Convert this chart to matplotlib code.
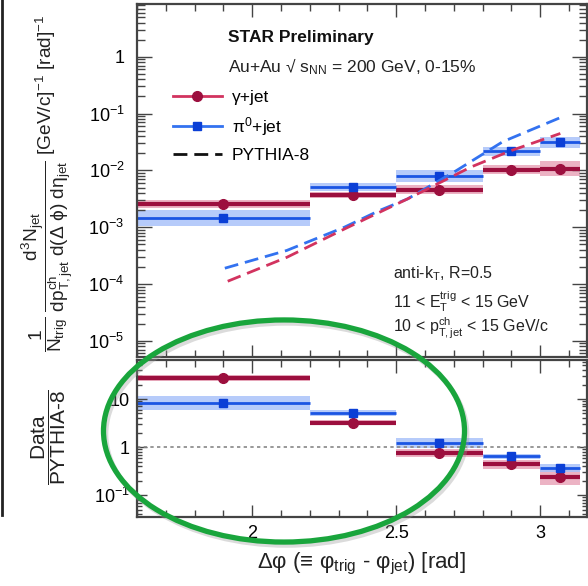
import numpy as np
import matplotlib
matplotlib.use("Agg")
import matplotlib.pyplot as plt
from matplotlib.lines import Line2D
from matplotlib.patches import Ellipse
from matplotlib.ticker import LogLocator, FuncFormatter, MultipleLocator, NullFormatter

plt.rcParams['font.family'] = ['Liberation Sans', 'DejaVu Sans']
plt.rcParams['mathtext.fontset'] = 'custom'
plt.rcParams['mathtext.rm'] = 'Liberation Sans'
plt.rcParams['mathtext.it'] = 'Liberation Sans'
plt.rcParams['mathtext.bf'] = 'Liberation Sans:bold'

# delta-phi bins
bin_lo = [1.6, 2.2, 2.5, 2.8, 3.0]
bin_hi = [2.2, 2.5, 2.8, 3.0, 3.14]
bin_center = [1.9, 2.35, 2.65, 2.9, 3.07]

# per-trigger yields (upper panel), systematic half-width in decades
gamma_yield = [2.6e-3, 3.7e-3, 4.6e-3, 1.03e-2, 1.07e-2]
pi0_yield = [1.43e-3, 5.1e-3, 7.9e-3, 2.17e-2, 3.1e-2]
gamma_sys = [0.07, 0.05, 0.08, 0.08, 0.13]
pi0_sys = [0.14, 0.07, 0.11, 0.08, 0.09]

# PYTHIA-8 curves
pythia_gamma_x = [1.915, 2.12, 2.32, 2.54, 2.76, 2.90, 3.07]
pythia_gamma_y = [1.12e-4, 2.95e-4, 9.3e-4, 3.16e-3, 1.15e-2, 2.24e-2, 4.47e-2]
pythia_pi0_x = [1.905, 2.12, 2.32, 2.44, 2.54, 2.70, 2.87, 3.07]
pythia_pi0_y = [1.9e-4, 3.9e-4, 1.0e-3, 1.95e-3, 3.16e-3, 9.3e-3, 3.2e-2, 8.5e-2]

# Data / PYTHIA-8 (lower panel)
gamma_ratio = [27.9, 3.2, 0.76, 0.44, 0.235]
pi0_ratio = [8.3, 5.1, 1.21, 0.64, 0.365]
gamma_ratio_sys = [0.06, 0.05, 0.08, 0.09, 0.15]
pi0_ratio_sys = [0.14, 0.055, 0.10, 0.06, 0.08]

red_dark = '#9c0f3e'
red_band = '#e9a6ba'
red_dash = '#d2335f'
blue_dark = '#0b3fd6'
blue_line = '#1a55e3'
blue_band = '#aac2fa'
blue_dash = '#3372f0'
frame = '#444444'


def draw_series(ax, values, sys, line_c, band_c, mark_c, marker, ms, lw):
    for lo, hi, c, v, s in zip(bin_lo, bin_hi, bin_center, values, sys):
        ax.fill_between([lo, hi], v / 10**s, v * 10**s, color=band_c, lw=0, alpha=0.85)
        ax.hlines(v, lo, hi, color=line_c, lw=lw)
        ax.plot(c, v, marker=marker, color=mark_c, ms=ms, ls='none')


def log_label(v, pos):
    e = int(round(np.log10(v)))
    if e == 0:
        return '1'
    if e == 1:
        return '10'
    return r'10$^{%d}$' % e


def style_axes(ax, ymaj, ymin):
    for sp in ax.spines.values():
        sp.set_color(frame)
        sp.set_linewidth(1.6)
    ax.xaxis.set_major_locator(MultipleLocator(0.5))
    ax.xaxis.set_minor_locator(MultipleLocator(0.1))
    ax.yaxis.set_major_locator(LogLocator(base=10, numticks=20))
    ax.yaxis.set_minor_locator(LogLocator(base=10, subs=np.arange(2, 10), numticks=20))
    ax.yaxis.set_major_formatter(FuncFormatter(log_label))
    ax.yaxis.set_minor_formatter(NullFormatter())
    ax.tick_params(which='both', direction='in', top=True, right=True, color=frame, width=1)
    ax.tick_params(axis='x', which='major', length=9)
    ax.tick_params(axis='x', which='minor', length=5)
    ax.tick_params(axis='y', which='major', length=ymaj)
    ax.tick_params(axis='y', which='minor', length=ymin)


fig = plt.figure(figsize=(5.88, 5.86), dpi=100)
ax = fig.add_axes([0.233, 0.3908, 0.765, 0.6024])
axr = fig.add_axes([0.233, 0.1177, 0.765, 0.268])

# ---- upper panel
ax.set_yscale('log')
draw_series(ax, gamma_yield, gamma_sys, red_dark, red_band, red_dark, 'o', 7, 3)
draw_series(ax, pi0_yield, pi0_sys, blue_line, blue_band, blue_dark, 's', 6, 2)
ax.plot(pythia_pi0_x, pythia_pi0_y, color=blue_dash, lw=2, ls=(0, (5, 2.5)))
ax.plot(pythia_gamma_x, pythia_gamma_y, color=red_dash, lw=2, ls=(0, (5, 2.5)))
ax.set_xlim(1.6, 3.162)
ax.set_ylim(5.2e-6, 8.5)
style_axes(ax, 11, 5.5)
ax.tick_params(axis='x', labelbottom=False)
ax.tick_params(axis='y', labelsize=13, pad=9)

ax.text(0.203, 0.906, 'STAR Preliminary', transform=ax.transAxes, fontsize=12.5,
        fontweight='bold', va='center', color='#111111')
ax.text(0.203, 0.823, r'Au+Au √ s$_{\mathrm{NN}}$ = 200 GeV, 0-15%', transform=ax.transAxes,
        fontsize=12.5, va='center', color='#222222')

handles = [
    Line2D([], [], color=red_dash, lw=2, marker='o', mfc=red_dark, mec=red_dark, ms=7),
    Line2D([], [], color=blue_dash, lw=2, marker='s', mfc=blue_dark, mec=blue_dark, ms=6),
    Line2D([], [], color='#111111', lw=2, ls=(0, (5, 2.5))),
]
labels = ['γ+jet', r'$\pi^{0}$+jet', 'PYTHIA-8']
leg = ax.legend(handles, labels, loc='upper left', bbox_to_anchor=(0.08, 0.757),
                frameon=False, fontsize=12.5, handlelength=2.8, handletextpad=0.6,
                labelspacing=0.58, borderpad=0, borderaxespad=0)

ax.text(0.57, 0.236, r'anti-k$_{\mathrm{T}}$, R=0.5', transform=ax.transAxes,
        fontsize=11.5, va='center', color='#222222')
ax.text(0.57, 0.158, r'11 < E$_{\mathrm{T}}^{\mathrm{trig}}$ < 15 GeV', transform=ax.transAxes,
        fontsize=11.5, va='center', color='#222222')
ax.text(0.57, 0.08, r'10 < p$_{\mathrm{T,jet}}^{\mathrm{ch}}$ < 15 GeV/c', transform=ax.transAxes,
        fontsize=11.5, va='center', color='#222222')

fig.text(0.082, 0.687,
         r'$\dfrac{1}{\mathrm{N}_{\mathrm{trig}}}\ \dfrac{\mathrm{d}^{3}\mathrm{N}_{\mathrm{jet}}}'
         r'{\mathrm{dp}^{\mathrm{ch}}_{\mathrm{T,jet}}\ \mathrm{d}(\Delta\ \phi)\ \mathrm{d}\eta_{\mathrm{jet}}}$'
         r' [GeV/c]$^{-1}$ [rad]$^{-1}$',
         rotation=90, ha='center', va='center', fontsize=13.8, color='#222222')

# ---- lower panel
axr.set_yscale('log')
axr.axhline(1, color='#888888', lw=1.2, ls=(0, (2, 2)))
draw_series(axr, gamma_ratio, gamma_ratio_sys, red_dark, red_band, red_dark, 'o', 7, 3)
draw_series(axr, pi0_ratio, pi0_ratio_sys, blue_line, blue_band, blue_dark, 's', 6, 2)
axr.set_xlim(1.6, 3.162)
axr.set_ylim(0.035, 65)
style_axes(axr, 7, 3.5)
axr.xaxis.set_major_formatter(FuncFormatter(lambda v, p: '%g' % v))
axr.tick_params(axis='x', labelsize=13, pad=6)
axr.tick_params(axis='y', labelsize=13, pad=5)
axr.set_xlabel(r'Δφ (≡ φ$_{\mathrm{trig}}$ - φ$_{\mathrm{jet}}$) [rad]', fontsize=16,
               labelpad=6, color='#222222')

fig.text(0.083, 0.255, r'$\dfrac{\mathrm{Data}}{\mathrm{PYTHIA\text{-}8}}$', rotation=90,
         ha='center', va='center', fontsize=15, color='#222222')

# slide border on the far left
fig.add_artist(Line2D([0.003, 0.003], [1.0, 1 - 515 / 586], color='#222222', lw=2,
                      transform=fig.transFigure))

# green highlight ellipse with a soft shadow
fig.add_artist(Ellipse((0.487, 0.259), 0.614, 0.379, transform=fig.transFigure,
                       fill=False, ec='#999999', lw=3.6, alpha=0.35))
fig.add_artist(Ellipse((0.483, 0.2645), 0.614, 0.379, transform=fig.transFigure,
                       fill=False, ec='#19a53c', lw=3.8))

fig.savefig('out.png', dpi=100)
